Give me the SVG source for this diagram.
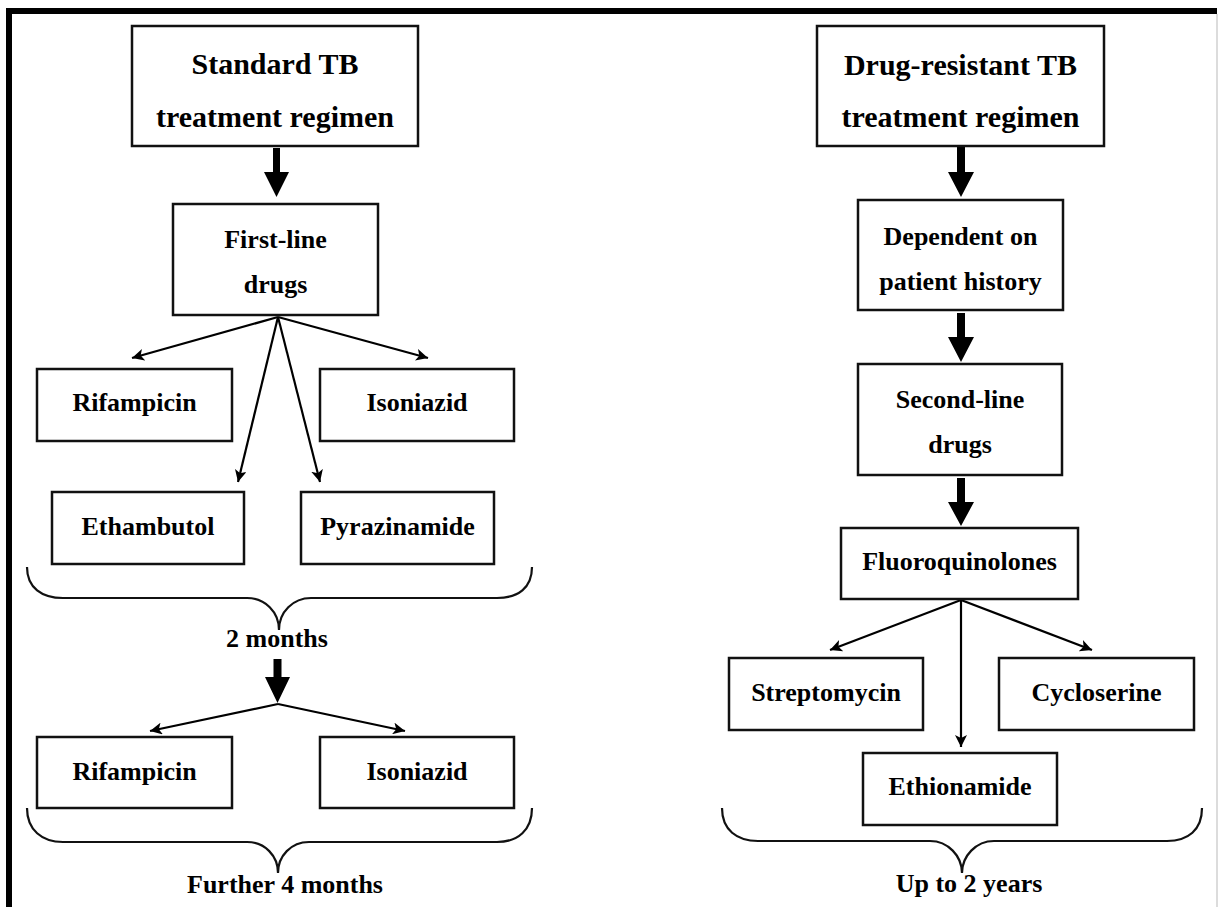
<svg xmlns="http://www.w3.org/2000/svg" width="1219" height="907" viewBox="0 0 1219 907">
<defs>
<style>
.box{fill:#fff;stroke:#111;stroke-width:2.5}
.t{font-family:"Liberation Serif","Times New Roman",serif;font-weight:bold;font-size:26px;fill:#000;text-anchor:middle}
.tt{font-size:30px}
.ln{stroke:#000;stroke-width:2.2;fill:none;marker-end:url(#ah)}
.br{stroke:#111;stroke-width:2.2;fill:none}
.thick{fill:#000}
</style>
<marker id="ah" markerUnits="userSpaceOnUse" markerWidth="13" markerHeight="12" refX="12" refY="6" orient="auto">
<path d="M0,0 L12,6 L0,12 L3,6 z" fill="#000"/>
</marker>
</defs>
<rect width="1219" height="907" fill="#fff"/>
<g id="frame">
<line x1="6" y1="11" x2="1217" y2="11" stroke="#000" stroke-width="6"/>
<line x1="9" y1="8" x2="9" y2="907" stroke="#000" stroke-width="6"/>
<line x1="1217" y1="14" x2="1217" y2="907" stroke="#d0d0d0" stroke-width="1.5"/>
</g>
<g id="connectors">
<polygon class="thick" points="273,148 280,148 280,172 289,172 276.5,197 264,172 273,172"/>
<polygon class="thick" points="957,146 965,146 965,172 974,172 961,197 948,172 957,172"/>
<polygon class="thick" points="957,313 965,313 965,337 974,337 961,362 948,337 957,337"/>
<polygon class="thick" points="957,478 965,478 965,502 974,502 961,526 948,502 957,502"/>
<polygon class="thick" points="273.5,659 281.5,659 281.5,677 290,677 277.5,703 265,677 273.5,677"/>
<line class="ln" x1="278" y1="317" x2="132" y2="358"/>
<line class="ln" x1="278" y1="317" x2="428" y2="358"/>
<line class="ln" x1="278" y1="317" x2="238" y2="482"/>
<line class="ln" x1="278" y1="317" x2="320" y2="482"/>
<line class="ln" x1="278" y1="704" x2="150" y2="731"/>
<line class="ln" x1="278" y1="704" x2="405" y2="731"/>
<line class="ln" x1="961" y1="600" x2="830" y2="650"/>
<line class="ln" x1="961" y1="600" x2="1092" y2="650"/>
<line class="ln" x1="961" y1="600" x2="961" y2="747"/>
</g>
<g id="braces">
<path class="br" d="M27,567 C27,588 42,598 63,598 L247,598 C265,598 279,612 279,630 C279,612 293,598 311,598 L497,598 C518,598 532,588 532,567"/>
<path class="br" d="M27,808 C27,830 42,842 63,842 L247,842 C265,842 278,856 278,873 C278,856 291,842 309,842 L497,842 C518,842 532,830 532,808"/>
<path class="br" d="M722,808 C722,830 737,841 758,841 L930,841 C948,841 962,856 962,873 C962,856 976,841 994,841 L1167,841 C1188,841 1202,830 1202,808"/>
</g>
<g id="n-standard"><rect class="box" x="132" y="26" width="286" height="120"/><text class="t tt" x="275" y="74">Standard TB</text><text class="t tt" x="275" y="127">treatment regimen</text></g>
<g id="n-firstline"><rect class="box" x="173" y="204" width="205" height="111"/><text class="t" x="275.5" y="248">First-line</text><text class="t" x="275.5" y="293">drugs</text></g>
<g id="n-rif1"><rect class="box" x="37" y="369" width="195" height="72"/><text class="t" x="134.5" y="411">Rifampicin</text></g>
<g id="n-iso1"><rect class="box" x="320" y="369" width="194" height="72"/><text class="t" x="417" y="411">Isoniazid</text></g>
<g id="n-eth"><rect class="box" x="52" y="492" width="192" height="72"/><text class="t" x="148" y="535">Ethambutol</text></g>
<g id="n-pyr"><rect class="box" x="301" y="492" width="193" height="72"/><text class="t" x="397.5" y="535">Pyrazinamide</text></g>
<g id="l-2months"><text class="t" x="277" y="647">2 months</text></g>
<g id="n-rif2"><rect class="box" x="37" y="737" width="195" height="71"/><text class="t" x="134.5" y="780">Rifampicin</text></g>
<g id="n-iso2"><rect class="box" x="320" y="737" width="194" height="71"/><text class="t" x="417" y="780">Isoniazid</text></g>
<g id="l-further"><text class="t" x="285" y="893">Further 4 months</text></g>
<g id="n-drugres"><rect class="box" x="817" y="26" width="287" height="120"/><text class="t tt" x="960.5" y="75">Drug-resistant TB</text><text class="t tt" x="960.5" y="127">treatment regimen</text></g>
<g id="n-dependent"><rect class="box" x="858" y="200" width="205" height="110"/><text class="t" x="960.5" y="245">Dependent on</text><text class="t" x="960.5" y="290">patient history</text></g>
<g id="n-secondline"><rect class="box" x="858" y="364" width="204" height="111"/><text class="t" x="960" y="408">Second-line</text><text class="t" x="960" y="453">drugs</text></g>
<g id="n-fluoro"><rect class="box" x="841" y="528" width="237" height="71"/><text class="t" x="959.5" y="570">Fluoroquinolones</text></g>
<g id="n-strep"><rect class="box" x="729" y="658" width="194" height="72"/><text class="t" x="826" y="701">Streptomycin</text></g>
<g id="n-cyclo"><rect class="box" x="999" y="658" width="195" height="72"/><text class="t" x="1096.5" y="701">Cycloserine</text></g>
<g id="n-ethio"><rect class="box" x="863" y="753" width="194" height="72"/><text class="t" x="960" y="795">Ethionamide</text></g>
<g id="l-2years"><text class="t" x="969" y="892">Up to 2 years</text></g>
</svg>
